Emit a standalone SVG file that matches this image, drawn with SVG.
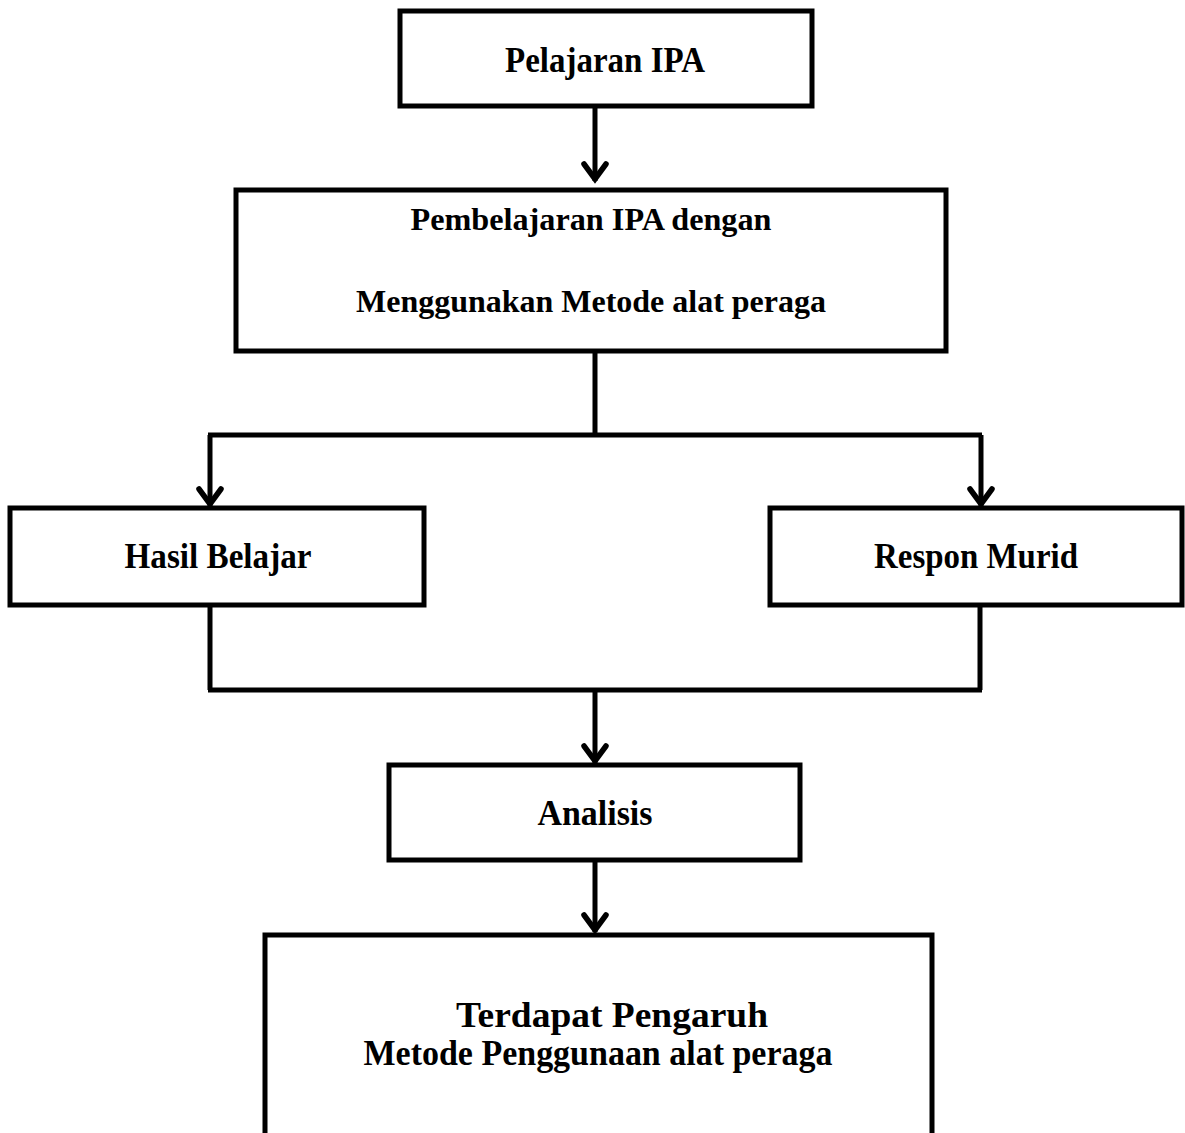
<svg xmlns="http://www.w3.org/2000/svg" width="1185" height="1133" viewBox="0 0 1185 1133">
<style>
.box{fill:#fff;stroke:#000;stroke-width:5}
.lbl{font-family:"Liberation Serif",serif;font-weight:bold;font-size:35px;fill:#000;text-anchor:middle}
.tnr{font-family:"Liberation Serif",serif;font-weight:bold;font-size:31px;fill:#000;text-anchor:middle}
.ln{fill:none;stroke:#000;stroke-width:5}
</style>
<defs>
<marker id="ah" markerUnits="userSpaceOnUse" markerWidth="32" markerHeight="26" viewBox="-16 -22 32 26" refX="0" refY="0" orient="0">
<path d="M-11,-17 L0,-2 L11,-17" fill="none" stroke="#000" stroke-width="5.5" stroke-linecap="round" stroke-linejoin="miter"/>
</marker>
</defs>
<rect width="1185" height="1133" fill="#fff"/>
<g id="connectors">
<path class="ln" d="M595,108 V181" marker-end="url(#ah)"/>
<path class="ln" d="M595,352 V435 M208,435 H982"/>
<path class="ln" d="M210,435 V506" marker-end="url(#ah)"/>
<path class="ln" d="M981,435 V506" marker-end="url(#ah)"/>
<path class="ln" d="M210,605 V690 M980,605 V690 M208,690 H982"/>
<path class="ln" d="M595,690 V763" marker-end="url(#ah)"/>
<path class="ln" d="M595,860 V932" marker-end="url(#ah)"/>
</g>
<g id="n1">
<rect class="box" x="400" y="11" width="412" height="95"/>
<text class="lbl" x="605" y="72" textLength="200" lengthAdjust="spacingAndGlyphs">Pelajaran IPA</text>
</g>
<g id="n2">
<rect class="box" x="236" y="190" width="710" height="161"/>
<text class="tnr" x="591" y="230" textLength="361" lengthAdjust="spacingAndGlyphs">Pembelajaran IPA dengan</text>
<text class="tnr" x="591" y="312" textLength="470" lengthAdjust="spacingAndGlyphs">Menggunakan Metode alat peraga</text>
</g>
<g id="n3">
<rect class="box" x="10" y="508" width="414" height="97"/>
<text class="lbl" x="218" y="568" textLength="187" lengthAdjust="spacingAndGlyphs">Hasil Belajar</text>
</g>
<g id="n4">
<rect class="box" x="770" y="508" width="412" height="97"/>
<text class="lbl" x="976" y="568" textLength="204" lengthAdjust="spacingAndGlyphs">Respon Murid</text>
</g>
<g id="n5">
<rect class="box" x="389" y="765" width="411" height="95"/>
<text class="lbl" x="595" y="825" textLength="115" lengthAdjust="spacingAndGlyphs">Analisis</text>
</g>
<g id="n6">
<path class="box" d="M265,1140 V935 H932 V1140"/>
<text class="lbl" x="612" y="1027" textLength="312" lengthAdjust="spacingAndGlyphs">Terdapat Pengaruh</text>
<text class="lbl" x="598" y="1065" textLength="469" lengthAdjust="spacingAndGlyphs">Metode Penggunaan alat peraga</text>
</g>
</svg>
